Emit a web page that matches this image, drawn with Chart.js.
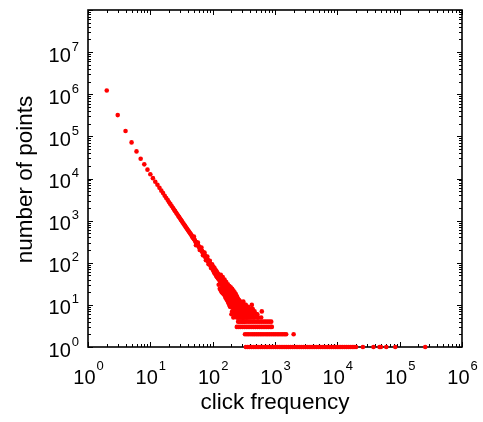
<!DOCTYPE html>
<html>
<head>
<meta charset="utf-8">
<script src="https://cdn.jsdelivr.net/npm/chart.js@4"></script>
<style>
  html, body { margin: 0; padding: 0; background: #fff; }
  #chart { display: block; }
</style>
</head>
<body>
<canvas id="chart" width="483" height="422"></canvas>
<script>
// clean head of the distribution: click frequency -> number of points
var mainX = [2, 3, 4, 5, 6, 7, 8, 9, 10, 11, 12, 13, 14, 15, 16, 17, 18, 19, 20,
  21, 22, 23, 24, 25, 26, 27, 28, 29, 30, 31, 32, 33, 34, 35, 36, 37, 38, 39, 40,
  41, 42, 43, 44, 45, 46, 47, 48, 49, 50, 51, 52, 53, 54, 55, 56, 57, 58, 59];
var mainY = [1230000, 320000, 134000, 72000, 44000, 29500, 21700, 16200, 12600, 10200,
  8400, 7100, 6000, 5150, 4500, 3900, 3450, 3080, 2740, 2460, 2230, 2010, 1840, 1680,
  1540, 1410, 1310, 1210, 1125, 1040, 975, 905, 850, 800, 752, 705, 668, 630, 598,
  566, 540, 512, 486, 470, 441, 412, 400, 383, 366, 356, 336, 315, 309, 301, 285,
  268, 264, 254];

// noisy middle part
var midX = [60, 61, 62, 63, 64, 65, 66, 67, 68, 69, 70, 71, 72, 73, 74, 75, 76, 77, 78,
  79, 80, 81, 82, 83, 84, 85, 86, 87, 88, 89, 90, 91, 92, 93, 94, 95, 96, 97, 98, 99, 100,
  50, 54, 58, 62, 66, 70, 74, 78, 82, 86, 90, 94, 98];
var midY = [240, 238, 225, 226, 205, 210, 196, 190, 186, 172, 178, 164, 166, 152, 155,
  147, 140, 142, 128, 133, 126, 121, 124, 112, 114, 105, 108, 98, 104, 96, 97, 90, 92,
  84, 88, 80, 85, 76, 79, 73, 80,
  420, 260, 300, 200, 230, 150, 175, 115, 140, 92, 112, 75, 92];

// scattered tail before the count rows take over
var tailX = [101, 102, 103, 104, 105, 106, 107, 108, 109, 110, 111, 112, 113, 114, 115,
  116, 117, 118, 119, 120, 122, 123, 124, 126, 127, 128, 130, 131, 132, 134, 135, 136,
  138, 139, 140, 142, 143, 144, 146, 147, 148, 150, 151, 152, 154, 155, 156, 158, 159,
  160, 162, 163, 164, 166, 167, 168, 170, 171, 172, 174, 176, 178, 180, 182, 184, 186,
  188, 190, 192, 194, 196, 198, 200, 203, 206, 209, 212, 215, 218, 221, 224, 227, 230,
  233, 236, 239, 242, 245, 248, 251, 254, 257, 260, 263, 266, 270, 274, 278, 282, 286,
  290, 295, 300, 305, 310, 315, 320, 328, 335, 345, 360, 380, 400, 420, 440, 470, 500,
  540, 600, 310, 425, 614, 470, 380, 520, 250, 265, 280, 300, 330, 360, 395, 230, 255,
  285, 320, 350, 210, 225, 240, 262, 292, 340, 195, 215, 235, 275, 305, 440, 365, 415];
var tailY = [74, 66, 80, 62, 70, 58, 75, 64, 55, 68, 60, 52, 65, 57, 48, 62, 53, 45, 58,
  50, 42, 54, 47, 40, 51, 44, 37, 48, 41, 35, 45, 38, 30, 42, 34, 28, 39, 32, 26, 36, 30,
  25, 34, 29, 23, 32, 27, 22, 30, 25, 20, 29, 24, 19, 27, 22, 18, 26, 21, 17, 24, 20, 15,
  23, 18, 14, 21, 17, 13, 20, 16, 12, 19, 15, 11, 18, 14, 10, 17, 13, 9, 16, 12, 8, 15,
  11, 7, 14, 10, 6, 12, 9, 5, 11, 8, 6, 10, 7, 5, 9, 6, 4, 8, 5, 7, 6, 4, 5, 6, 5, 7, 5,
  6, 5, 8, 5, 6, 5, 5, 12, 10, 7, 7, 8, 6, 5, 6, 7, 5, 6, 5, 6, 7, 8, 8, 7, 6, 9, 9, 8,
  7, 6, 10, 11, 10, 9, 9, 6, 6, 7];

// extra points filling the dense blob between 10^2 and 10^3
var blobX = [125, 130, 135, 140, 145, 150, 155, 160, 165, 170, 175, 180, 185, 190, 195,
  135, 145, 155, 165, 175, 185, 195, 205, 215, 225, 235, 245, 255, 265, 280, 300, 320,
  350, 390, 430,
  230, 260, 290, 330, 220, 250, 285, 320, 370, 215, 245, 275, 310, 350, 400,
  205, 235, 265, 300, 340, 390, 450, 200, 228, 258, 290, 330, 375, 430, 500,
  215, 245, 275, 310, 350, 395, 450, 520];
var blobY = [30, 24, 22, 20, 19, 18, 17, 15, 14, 13, 12, 11, 10, 9, 9,
  52, 46, 40, 35, 31, 28, 26, 24, 22, 20, 18, 16, 14, 13, 12, 11, 10,
  9, 8, 7,
  10, 10, 10, 10, 9, 9, 9, 9, 9, 8, 8, 8, 8, 8, 8,
  7, 7, 7, 7, 7, 7, 7, 6, 6, 6, 6, 6, 6, 6, 6,
  5, 5, 5, 5, 5, 5, 5, 5];

// horizontal rows of small counts
var row4X = [256, 268, 287, 308, 330, 354, 379, 406, 435, 466, 500, 536, 574, 615, 660,
  707, 758, 812, 870];
var row3X = [244, 262, 280, 300, 322, 345, 370, 396, 425, 455, 488, 523, 560, 600, 643,
  690, 740, 793, 850, 890];
var row2X = [330, 355, 380, 410, 440, 470, 505, 540, 580, 620, 665, 715, 765, 820, 880,
  945, 1010, 1085, 1160, 1245, 1330, 1420, 1510, 1990];
var row1X = [340, 365, 390, 420, 450, 480, 515, 550, 590, 630, 675, 720, 770, 830, 890,
  950, 1020, 1090, 1170, 1250, 1340, 1440, 1540, 1650, 1770, 1900, 2030, 2180, 2330,
  2500, 2680, 2870, 3080, 3300, 3530, 3780, 4050, 4340, 4650, 4980, 5340, 5720, 6130,
  6570, 7040, 7540, 8080, 8660, 9280, 9940, 10650, 11400, 12200, 13100, 14000, 15000,
  16100, 17300, 18500, 20000, 25700, 38000, 47500, 50000, 61000, 85000, 257000];

var xDecades = [0, 1, 2, 3, 4, 5, 6];
var yDecades = [0, 1, 2, 3, 4, 5, 6, 7];

function pairs(xs, ys) {
  return xs.map(function(x, i) { return { x: x, y: ys[i] }; });
}
function row(xs, y) {
  return xs.map(function(x) { return { x: x, y: y }; });
}

var points = [].concat(
  pairs(mainX, mainY), pairs(midX, midY), pairs(tailX, tailY), pairs(blobX, blobY),
  row(row4X, 4), row(row3X, 3), row(row2X, 2), row(row1X, 1)
);

var FONT = '"Liberation Sans", Arial, sans-serif';

// matlab style box with inside ticks
var frame = {
  id: 'frame',
  beforeDatasetsDraw: function(c) {
    var ctx = c.ctx, a = c.chartArea;
    var xs = c.scales.x, ys = c.scales.y;
    ctx.save();
    ctx.strokeStyle = '#000';
    ctx.lineWidth = 1.6;
    ctx.strokeRect(a.left, a.top, a.right - a.left, a.bottom - a.top);
    ctx.lineWidth = 1;
    ctx.beginPath();
    xDecades.forEach(function(k) {
      for (var m = 1; m <= 9; m++) {
        var v = m * Math.pow(10, k);
        if (v > 1e6) break;
        var px = Math.round(xs.getPixelForValue(v)) + 0.5;
        var len = m === 1 ? 5 : 3;
        ctx.moveTo(px, a.bottom); ctx.lineTo(px, a.bottom - len);
        ctx.moveTo(px, a.top); ctx.lineTo(px, a.top + len);
      }
    });
    yDecades.concat([8]).forEach(function(k) {
      for (var m = 1; m <= 9; m++) {
        var v = m * Math.pow(10, k);
        if (v > 1e8) break;
        var py = Math.round(ys.getPixelForValue(v)) + 0.5;
        var len = m === 1 ? 5 : 3;
        ctx.moveTo(a.left, py); ctx.lineTo(a.left + len, py);
        ctx.moveTo(a.right, py); ctx.lineTo(a.right - len, py);
      }
    });
    ctx.stroke();
    ctx.restore();
  },
  afterDraw: function(c) {
    var ctx = c.ctx, a = c.chartArea;
    var xs = c.scales.x, ys = c.scales.y;
    ctx.save();
    ctx.fillStyle = '#000';
    ctx.textBaseline = 'alphabetic';
    ctx.textAlign = 'left';
    var big = '20px ' + FONT, small = '13px ' + FONT;

    xDecades.forEach(function(k) {
      var px = xs.getPixelForValue(Math.pow(10, k));
      ctx.font = big; var w1 = ctx.measureText('10').width;
      ctx.font = small; var w2 = ctx.measureText(String(k)).width;
      var x0 = px - (w1 + w2) / 2;
      ctx.font = big; ctx.fillText('10', x0, 383.5);
      ctx.font = small; ctx.fillText(String(k), x0 + w1 + 1, 370);
    });

    yDecades.forEach(function(k) {
      var py = ys.getPixelForValue(Math.pow(10, k));
      ctx.font = big; var w1 = ctx.measureText('10').width;
      ctx.font = small; var w2 = ctx.measureText(String(k)).width;
      var x0 = 79 - w1 - w2 - 1;
      ctx.font = big; ctx.fillText('10', x0, py + 9.5);
      ctx.font = small; ctx.fillText(String(k), x0 + w1 + 1, py - 1.5);
    });

    ctx.font = '22.5px ' + FONT;
    ctx.textAlign = 'center';
    ctx.fillText('click frequency', (a.left + a.right) / 2, 409);
    ctx.translate(32, (a.top + a.bottom) / 2 + 1);
    ctx.rotate(-Math.PI / 2);
    ctx.fillText('number of points', 0, 0);
    ctx.restore();
  }
};

new Chart(document.getElementById('chart'), {
  type: 'scatter',
  data: {
    datasets: [{
      data: points,
      backgroundColor: '#ff0000',
      borderWidth: 0,
      pointRadius: 2.3,
      clip: false
    }]
  },
  options: {
    responsive: false,
    animation: false,
    devicePixelRatio: 1,
    layout: { padding: { left: 88, right: 21, top: 10, bottom: 75 } },
    plugins: { legend: { display: false }, tooltip: { enabled: false } },
    scales: {
      x: {
        type: 'logarithmic', min: 1, max: 1e6,
        grid: { display: false, drawTicks: false },
        border: { display: false },
        ticks: { display: false }
      },
      y: {
        type: 'logarithmic', min: 1, max: 1e8,
        grid: { display: false, drawTicks: false },
        border: { display: false },
        ticks: { display: false }
      }
    }
  },
  plugins: [frame]
});
</script>
</body>
</html>
